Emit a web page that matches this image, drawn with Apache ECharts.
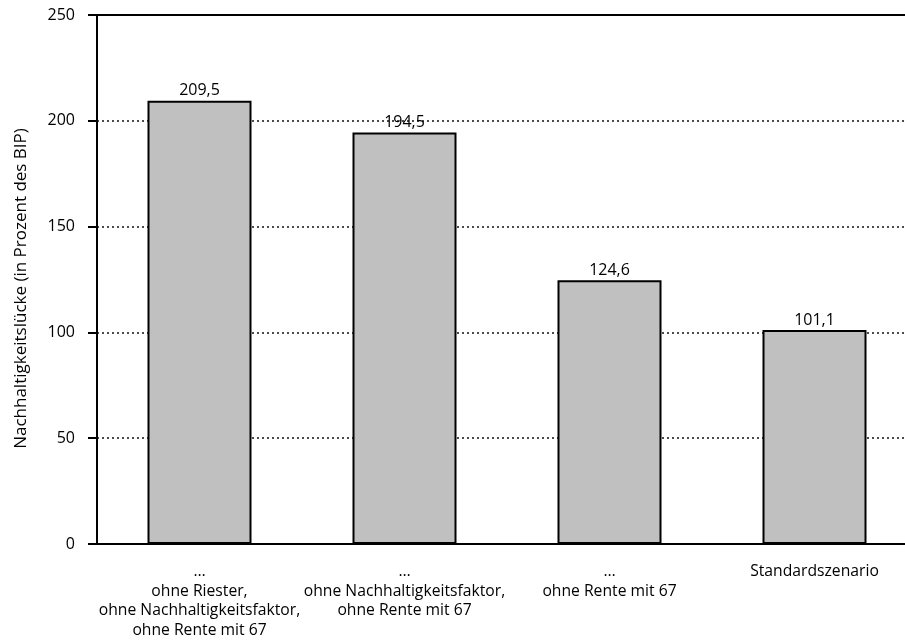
<!DOCTYPE html>
<html>
<head>
<meta charset="utf-8">
<script src="https://cdn.jsdelivr.net/npm/echarts@6/dist/echarts.min.js"></script>
<style>html,body{margin:0;padding:0;background:#fff}#c{width:905px;height:644px}</style>
</head>
<body>
<div id="c"></div>
<script>
var categories = [
  '…\nohne Riester,\nohne Nachhaltigkeitsfaktor,\nohne Rente mit 67',
  '…\nohne Nachhaltigkeitsfaktor,\nohne Rente mit 67',
  '…\nohne Rente mit 67',
  'Standardszenario'
];
var values = [209.5, 194.5, 124.6, 101.1];
var yTicks = [0, 50, 100, 150, 200, 250];
var yName = 'Nachhaltigkeitslücke (in Prozent des BIP)';

var font = 'Open Sans';
var chart = echarts.init(document.getElementById('c'), null, {renderer: 'canvas'});
chart.setOption({
  animation: false,
  textStyle: {fontFamily: font},
  grid: {left: 97, top: 15, width: 820, bottom: 100, containLabel: false, outerBoundsMode: 'none'},
  xAxis: [{
    type: 'category',
    data: categories,
    position: 'bottom',
    axisLine: {lineStyle: {color: '#000', width: 2}},
    axisTick: {show: false},
    axisLabel: {color: '#000', fontSize: 15.7, lineHeight: 19.5, margin: 18, interval: 0, fontFamily: font}
  }, {
    type: 'category',
    data: categories,
    position: 'top',
    axisLine: {show: true, lineStyle: {color: '#000', width: 2}},
    axisTick: {show: false},
    axisLabel: {show: false}
  }],
  yAxis: {
    type: 'value',
    min: yTicks[0],
    max: yTicks[yTicks.length - 1],
    interval: 50,
    name: yName,
    nameLocation: 'middle',
    nameGap: 67,
    nameTextStyle: {color: '#000', fontSize: 17, fontFamily: font, padding: [0, 18, 0, 0]},
    axisLine: {show: true, lineStyle: {color: '#000', width: 2}},
    axisTick: {show: true, length: 9, lineStyle: {color: '#000', width: 2}},
    axisLabel: {color: '#000', fontSize: 16, margin: 22, fontFamily: font},
    splitLine: {show: true, lineStyle: {color: '#111', width: 1.5, type: [2, 3]}}
  },
  series: [{
    type: 'bar',
    data: values,
    barWidth: 104,
    itemStyle: {color: '#c0c0c0', borderColor: '#000', borderWidth: 2},
    label: {
      show: true,
      position: 'top',
      distance: 2,
      color: '#000',
      fontSize: 16,
      fontFamily: font,
      formatter: function (p) { return String(p.value.toFixed(1)).replace('.', ','); }
    }
  }]
});
</script>
</body>
</html>
